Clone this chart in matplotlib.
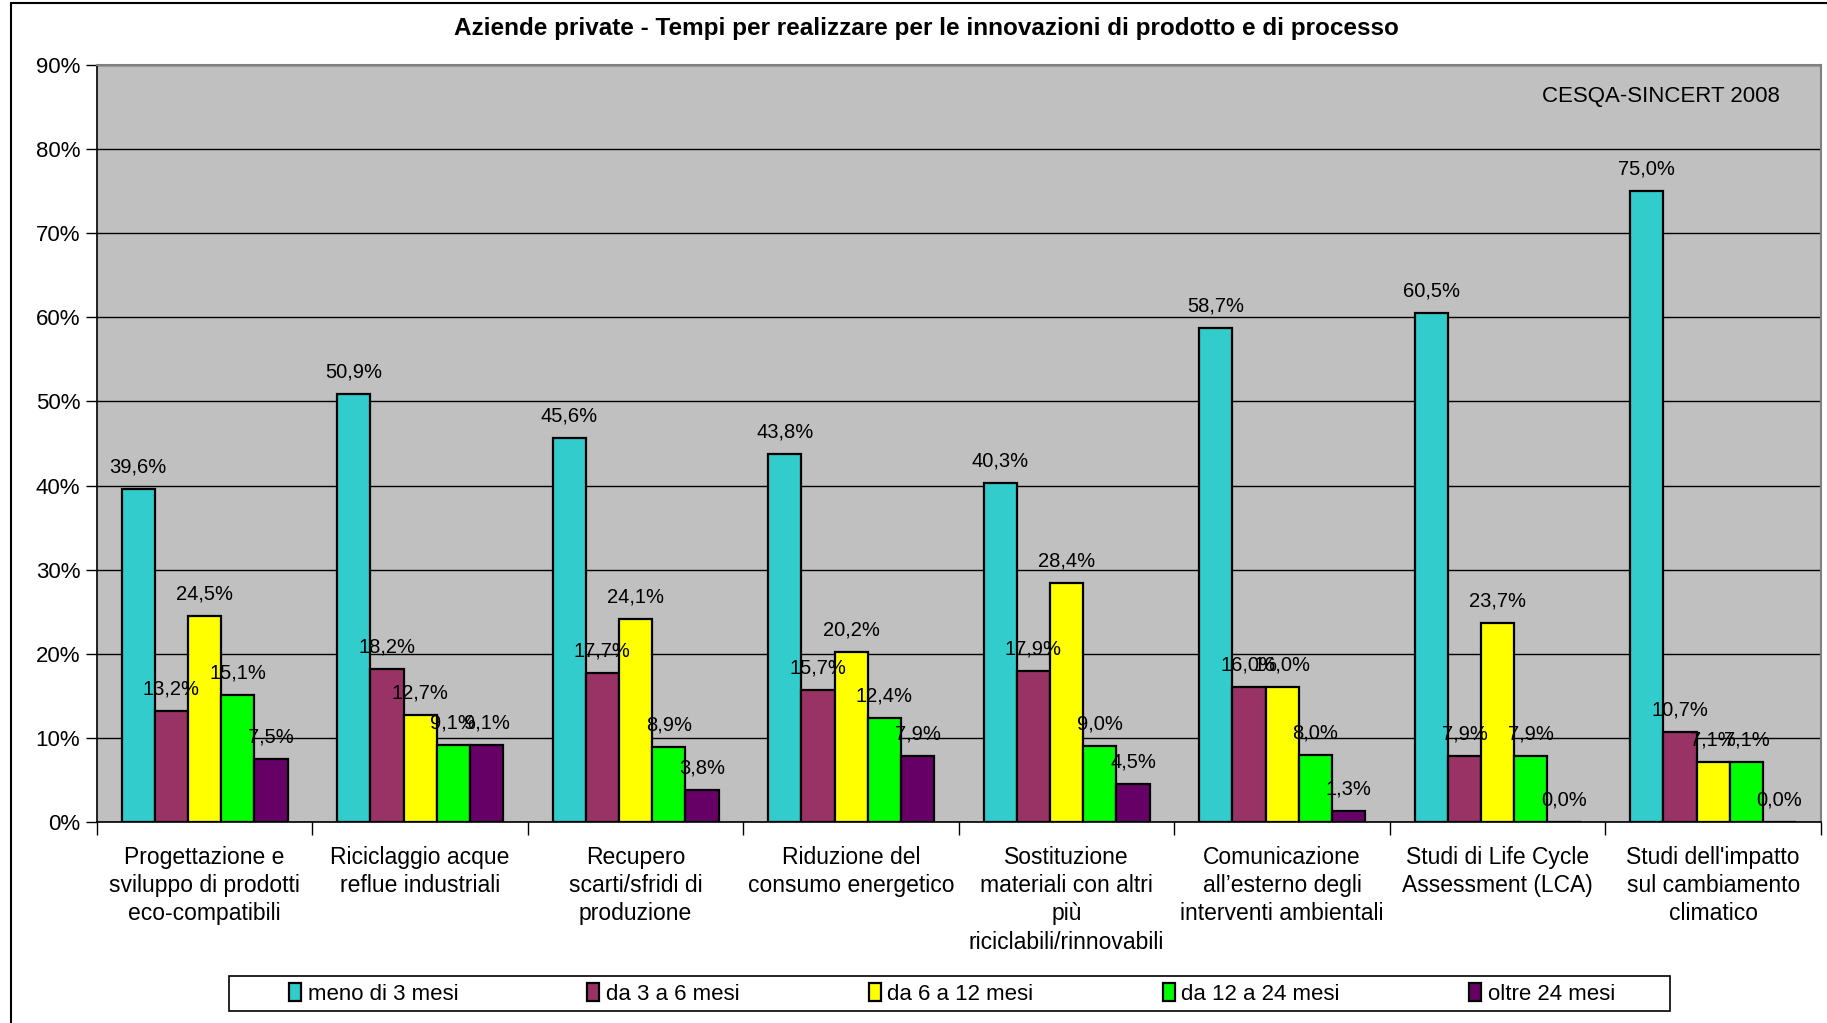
import numpy as np
import matplotlib
matplotlib.use('Agg')
import matplotlib.pyplot as plt
from matplotlib.patches import Rectangle
from matplotlib.ticker import FixedLocator, NullFormatter

plt.rcParams['font.family'] = ['Liberation Sans', 'DejaVu Sans']

# data
categories = [
    'Progettazione e\nsviluppo di prodotti\neco-compatibili',
    'Riciclaggio acque\nreflue industriali',
    'Recupero\nscarti/sfridi di\nproduzione',
    'Riduzione del\nconsumo energetico',
    'Sostituzione\nmateriali con altri\npiù\nriciclabili/rinnovabili',
    'Comunicazione\nall\u2019esterno degli\ninterventi ambientali',
    'Studi di Life Cycle\nAssessment (LCA)',
    "Studi dell'impatto\nsul cambiamento\nclimatico",
]
series_names = ['meno di 3 mesi', 'da 3 a 6 mesi', 'da 6 a 12 mesi',
                'da 12 a 24 mesi', 'oltre 24 mesi']
meno_3 = [39.6, 50.9, 45.6, 43.8, 40.3, 58.7, 60.5, 75.0]
da_3_6 = [13.2, 18.2, 17.7, 15.7, 17.9, 16.0, 7.9, 10.7]
da_6_12 = [24.5, 12.7, 24.1, 20.2, 28.4, 16.0, 23.7, 7.1]
da_12_24 = [15.1, 9.1, 8.9, 12.4, 9.0, 8.0, 7.9, 7.1]
oltre_24 = [7.5, 9.1, 3.8, 7.9, 4.5, 1.3, 0.0, 0.0]
y_ticks = [0, 10, 20, 30, 40, 50, 60, 70, 80, 90]

colors = ['#33CCCC', '#993366', '#FFFF00', '#00FF00', '#660066']
all_series = [meno_3, da_3_6, da_6_12, da_12_24, oltre_24]

fig = plt.figure(figsize=(18.27, 10.23), dpi=100)
ax = fig.add_axes([0.053, 0.1965, 0.9437, 0.74])
ax.set_facecolor('#C0C0C0')

x = np.arange(len(categories))
w = 0.154
offsets = (np.arange(5) - 2) * w
for vals, col, name, off in zip(all_series, colors, series_names, offsets):
    bars = ax.bar(x + off, vals, width=w, color=col, edgecolor='black',
                  linewidth=1.6, label=name, zorder=3)
    for b, v in zip(bars, vals):
        ax.annotate(('%.1f%%' % v).replace('.', ','),
                    (b.get_x() + b.get_width() / 2, v),
                    xytext=(0, 9), textcoords='offset points',
                    ha='center', va='bottom', fontsize=14.5, zorder=4)

ax.set_xlim(-0.5, len(categories) - 0.5)
ax.set_ylim(0, 90)
ax.set_yticks(y_ticks)
ax.set_yticklabels(['%d%%' % t for t in y_ticks], fontsize=16)
ax.yaxis.grid(True, color='black', linewidth=1.0, zorder=1)
ax.tick_params(axis='y', length=8, width=1, pad=4)

ax.set_xticks(x)
ax.set_xticklabels(categories, fontsize=16.5, linespacing=1.3, va='top')
ax.tick_params(axis='x', length=0, pad=17)
ax.xaxis.set_minor_locator(FixedLocator(np.arange(len(categories) + 1) - 0.5))
ax.xaxis.set_minor_formatter(NullFormatter())
ax.tick_params(axis='x', which='minor', length=9, width=1)

for s in ['top', 'right']:
    ax.spines[s].set_color('#808080')
    ax.spines[s].set_linewidth(1.5)
for s in ['left', 'bottom']:
    ax.spines[s].set_color('black')
    ax.spines[s].set_linewidth(1.2)

ax.text(0.976, 0.958, 'CESQA-SINCERT 2008', transform=ax.transAxes,
        ha='right', va='center', fontsize=16)

fig.text(0.507, 0.972, 'Aziende private - Tempi per realizzare per le innovazioni di prodotto e di processo',
         ha='center', va='center', fontsize=17.5, fontweight='bold')

# legend entries without frame, box drawn separately (wider side padding)
leg = fig.legend(loc='center', bbox_to_anchor=(0.521, 0.0285), ncol=5,
                 fontsize=16, frameon=False,
                 handlelength=0.55, handleheight=0.9, handletextpad=0.3,
                 columnspacing=5.8, borderpad=0.3)
fig.patches.append(Rectangle((0.1256, 0.0114), 0.7884, 0.0342, transform=fig.transFigure,
                             fill=False, edgecolor='black', linewidth=1.2))

# outer chart border
fig.patches.append(Rectangle((0.006, -0.01), 1.1, 1.007, transform=fig.transFigure,
                             fill=False, edgecolor='black', linewidth=1.5))

fig.savefig('out.png', dpi=100)
